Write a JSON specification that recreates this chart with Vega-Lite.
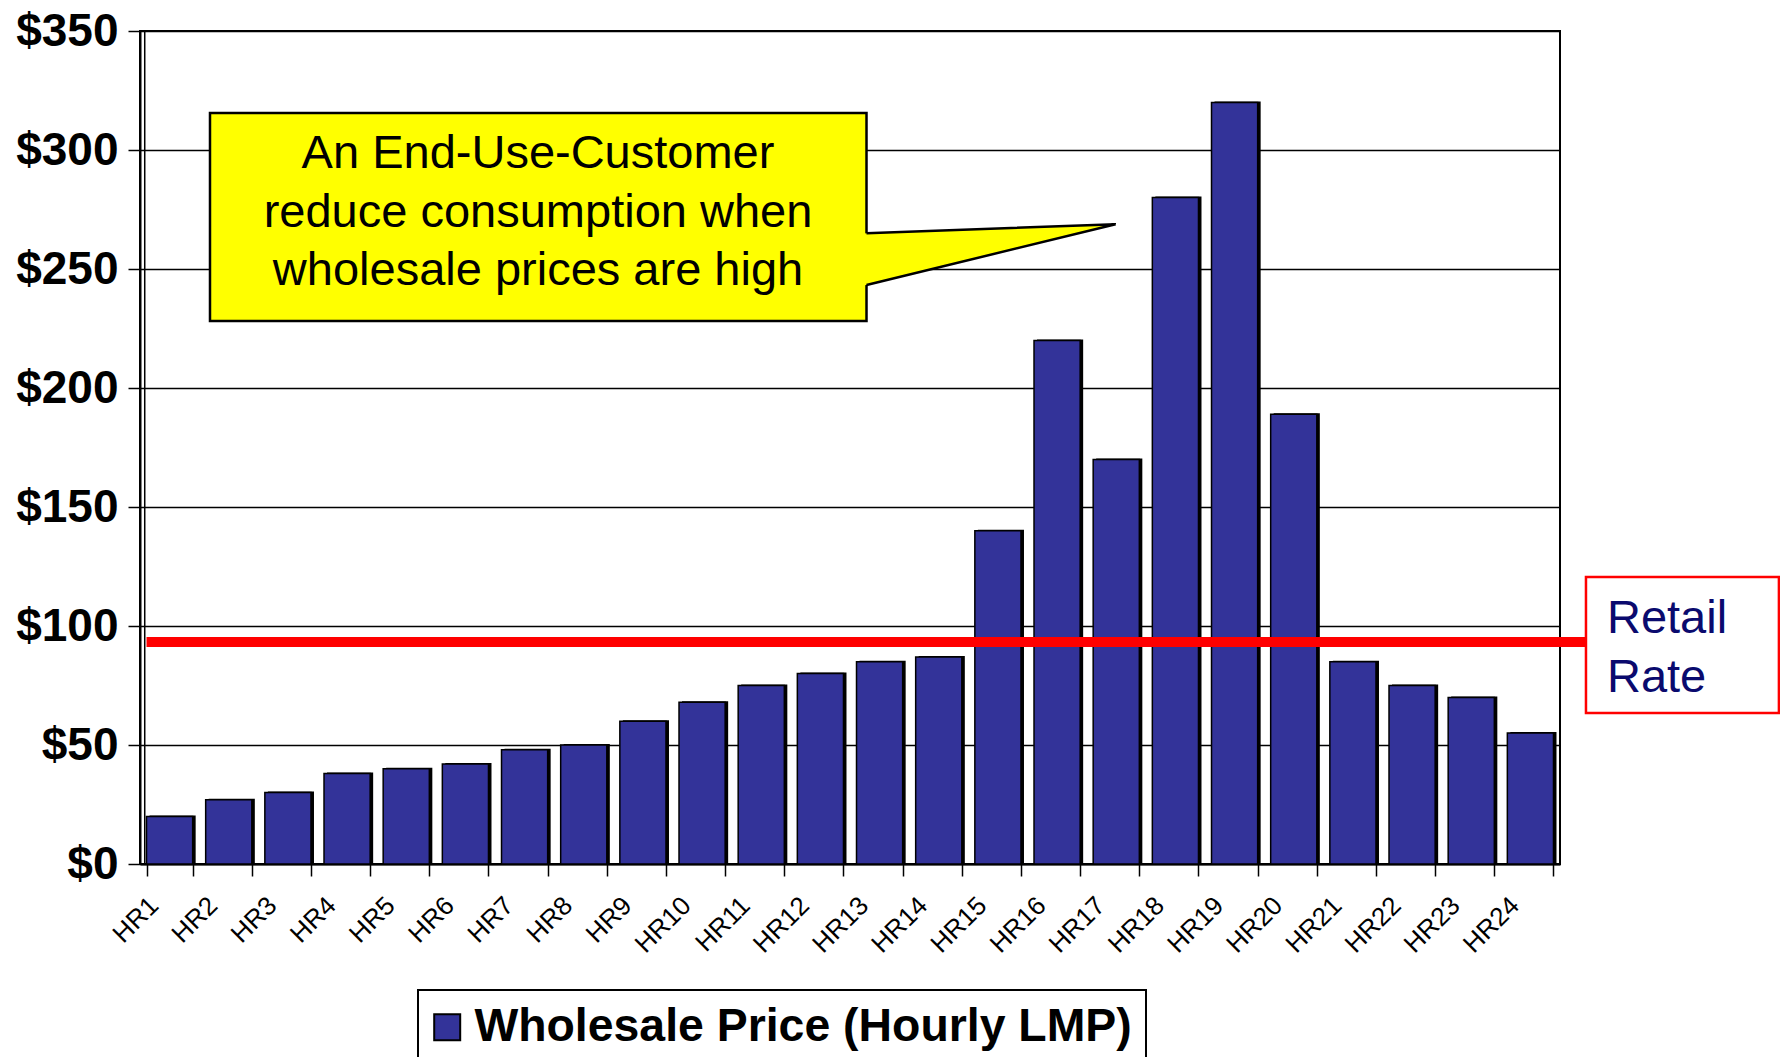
{
  "$schema": "https://vega.github.io/schema/vega-lite/v6.json",
  "width": 1420,
  "height": 833,
  "autosize": {"type": "none"},
  "padding": {"left": 140, "top": 31, "right": 220, "bottom": 193},
  "background": "white",
  "config": {
    "view": {"stroke": "black", "strokeWidth": 2},
    "font": "Liberation Sans",
    "legend": {"strokeWidth": 2}
  },
  "datasets": {
    "prices": [
      {"hour": "HR1", "price": 20}, {"hour": "HR2", "price": 27}, {"hour": "HR3", "price": 30},
      {"hour": "HR4", "price": 38}, {"hour": "HR5", "price": 40}, {"hour": "HR6", "price": 42},
      {"hour": "HR7", "price": 48}, {"hour": "HR8", "price": 50}, {"hour": "HR9", "price": 60},
      {"hour": "HR10", "price": 68}, {"hour": "HR11", "price": 75}, {"hour": "HR12", "price": 80},
      {"hour": "HR13", "price": 85}, {"hour": "HR14", "price": 87}, {"hour": "HR15", "price": 140},
      {"hour": "HR16", "price": 220}, {"hour": "HR17", "price": 170}, {"hour": "HR18", "price": 280},
      {"hour": "HR19", "price": 320}, {"hour": "HR20", "price": 189}, {"hour": "HR21", "price": 85},
      {"hour": "HR22", "price": 75}, {"hour": "HR23", "price": 70}, {"hour": "HR24", "price": 55}
    ],
    "callout": [{"x1": 1.183, "x2": 12.279, "y1": 315.5, "y2": 228.2}],
    "pointer": [{"x": 12.2, "top": 264.93, "bottom": 242.82}, {"x": 16.489, "top": 268.8, "bottom": 268.8}],
    "pointerEdge": [
      {"order": 1, "x": 12.279, "y": 265.0},
      {"order": 2, "x": 16.489, "y": 268.8},
      {"order": 3, "x": 12.279, "y": 243.3}
    ],
    "calloutText": [{"x": 6.727, "y": 292.4, "label": "An End-Use-Customer\nreduce consumption when\nwholesale prices are high"}],
    "retailLine": [{"x1": 0.11, "x2": 24.44, "y": 93.3}],
    "retailBox": [{"x1": 24.439, "x2": 27.70, "y1": 120.6, "y2": 63.4}],
    "retailText": [{"x": 24.794, "y": 97.06, "label": "Retail\nRate"}],
    "innerAxis": [{"x": 0.08, "y1": 0, "y2": 350}]
  },
  "resolve": {"scale": {"x": "independent"}, "axis": {"x": "independent", "y": "independent"}},
  "layer": [
    {
      "data": {"name": "prices"},
      "mark": {"type": "bar", "fill": "black", "xOffset": 3, "yOffset": -1},
      "encoding": {
        "x": {"field": "hour", "type": "ordinal", "sort": null, "scale": {"paddingInner": 0.22, "paddingOuter": 0.11}, "axis": null},
        "y": {"field": "price", "type": "quantitative", "scale": {"domain": [0, 350], "nice": false}, "axis": null}
      }
    },
    {
      "data": {"name": "prices"},
      "mark": {"type": "bar", "stroke": "black", "strokeWidth": 1.5},
      "encoding": {
        "x": {
          "field": "hour", "type": "ordinal", "sort": null,
          "scale": {"paddingInner": 0.22, "paddingOuter": 0.11},
          "axis": {
            "title": null, "labelAngle": -45, "labelFontSize": 26, "labelColor": "black",
            "labelFont": "Liberation Sans", "tickBand": "extent", "tickSize": 12, "tickColor": "black",
            "tickWidth": 1.5, "domainColor": "black", "domainWidth": 2, "labelPadding": 16,
            "labelOffset": -25, "grid": false
          }
        },
        "y": {
          "field": "price", "type": "quantitative",
          "scale": {"domain": [0, 350], "nice": false},
          "axis": {
            "title": null, "values": [0, 50, 100, 150, 200, 250, 300, 350],
            "labelExpr": "'$' + datum.value", "labelFontSize": 46, "labelFontWeight": "bold",
            "labelColor": "black", "labelFont": "Liberation Sans", "tickSize": 12, "tickColor": "black",
            "tickWidth": 1.5, "domainColor": "black", "domainWidth": 2, "grid": true,
            "gridColor": "black", "gridWidth": 1.5, "gridOpacity": 1, "labelPadding": 10
          }
        },
        "color": {
          "datum": "Wholesale Price (Hourly LMP)", "type": "nominal",
          "scale": {"range": ["#333399"]},
          "legend": {
            "orient": "none", "legendX": 278, "legendY": 959, "title": null,
            "symbolType": "square", "symbolSize": 676, "symbolStrokeColor": "black",
            "symbolStrokeWidth": 2, "symbolOffset": -8, "labelFontSize": 46.4, "labelFontWeight": "bold",
            "labelColor": "black", "labelFont": "Liberation Sans", "labelOffset": 4,
            "labelLimit": 1000, "padding": 14, "strokeColor": "black", "fillColor": "white"
          }
        }
      }
    },
    {
      "data": {"name": "retailLine"},
      "mark": {"type": "rule", "color": "#ff0000", "strokeWidth": 10, "strokeCap": "butt"},
      "encoding": {
        "x": {"field": "x1", "type": "quantitative", "scale": {"domain": [0, 24], "nice": false, "zero": false}, "axis": null},
        "x2": {"field": "x2"},
        "y": {"field": "y", "type": "quantitative", "scale": {"domain": [0, 350], "nice": false}, "axis": null}
      }
    },
    {
      "data": {"name": "callout"},
      "mark": {"type": "rect", "fill": "#ffff00", "stroke": "black", "strokeWidth": 2.5},
      "encoding": {
        "x": {"field": "x1", "type": "quantitative", "scale": {"domain": [0, 24], "nice": false, "zero": false}, "axis": null},
        "x2": {"field": "x2"},
        "y": {"field": "y1", "type": "quantitative", "scale": {"domain": [0, 350], "nice": false}, "axis": null},
        "y2": {"field": "y2"}
      }
    },
    {
      "data": {"name": "pointer"},
      "mark": {"type": "area", "fill": "#ffff00", "opacity": 1},
      "encoding": {
        "x": {"field": "x", "type": "quantitative", "scale": {"domain": [0, 24], "nice": false, "zero": false}, "axis": null},
        "y": {"field": "top", "type": "quantitative", "scale": {"domain": [0, 350], "nice": false}, "axis": null},
        "y2": {"field": "bottom"}
      }
    },
    {
      "data": {"name": "pointerEdge"},
      "mark": {"type": "line", "color": "black", "strokeWidth": 2.5},
      "encoding": {
        "x": {"field": "x", "type": "quantitative", "scale": {"domain": [0, 24], "nice": false, "zero": false}, "axis": null},
        "y": {"field": "y", "type": "quantitative", "scale": {"domain": [0, 350], "nice": false}, "axis": null},
        "order": {"field": "order", "type": "quantitative"}
      }
    },
    {
      "data": {"name": "calloutText"},
      "mark": {"type": "text", "align": "center", "baseline": "alphabetic", "fontSize": 47, "lineHeight": 58.5, "lineBreak": "\n", "color": "black", "font": "Liberation Sans"},
      "encoding": {
        "x": {"field": "x", "type": "quantitative", "scale": {"domain": [0, 24], "nice": false, "zero": false}, "axis": null},
        "y": {"field": "y", "type": "quantitative", "scale": {"domain": [0, 350], "nice": false}, "axis": null},
        "text": {"field": "label"}
      }
    },
    {
      "data": {"name": "retailBox"},
      "mark": {"type": "rect", "fill": "white", "stroke": "#ff0000", "strokeWidth": 2.5},
      "encoding": {
        "x": {"field": "x1", "type": "quantitative", "scale": {"domain": [0, 24], "nice": false, "zero": false}, "axis": null},
        "x2": {"field": "x2"},
        "y": {"field": "y1", "type": "quantitative", "scale": {"domain": [0, 350], "nice": false}, "axis": null},
        "y2": {"field": "y2"}
      }
    },
    {
      "data": {"name": "retailText"},
      "mark": {"type": "text", "align": "left", "baseline": "alphabetic", "fontSize": 47, "lineHeight": 59, "lineBreak": "\n", "color": "#0a0a6e", "font": "Liberation Sans"},
      "encoding": {
        "x": {"field": "x", "type": "quantitative", "scale": {"domain": [0, 24], "nice": false, "zero": false}, "axis": null},
        "y": {"field": "y", "type": "quantitative", "scale": {"domain": [0, 350], "nice": false}, "axis": null},
        "text": {"field": "label"}
      }
    },
    {
      "data": {"name": "innerAxis"},
      "mark": {"type": "rule", "color": "black", "strokeWidth": 1.5},
      "encoding": {
        "x": {"field": "x", "type": "quantitative", "scale": {"domain": [0, 24], "nice": false, "zero": false}, "axis": null},
        "y": {"field": "y1", "type": "quantitative", "scale": {"domain": [0, 350], "nice": false}, "axis": null},
        "y2": {"field": "y2"}
      }
    }
  ]
}
